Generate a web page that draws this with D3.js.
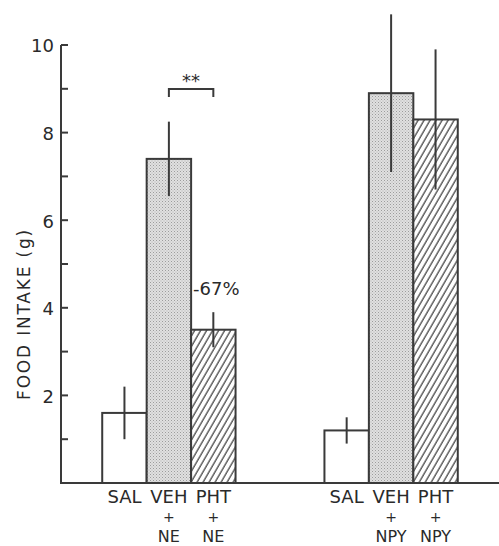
<!DOCTYPE html>
<html>
<head>
<meta charset="utf-8">
<script src="https://cdn.jsdelivr.net/npm/d3@7"></script>
<style>
  body { margin: 0; background: #fff; }
  svg { display: block; }
  text { font-family: "DejaVu Sans", sans-serif; fill: #2a2a2a; }
</style>
</head>
<body>
<div id="chart"></div>
<script>
// ---- data ----
const groups = ["NE", "NPY"];
const treatments = ["SAL", "VEH", "PHT"];
const meansNE = [1.6, 7.4, 3.5];
const errNE = [0.6, 0.85, 0.4];
const meansNPY = [1.2, 8.9, 8.3];
const errNPY = [0.3, 1.8, 1.6];
const yTicks = [1, 2, 3, 4, 5, 6, 7, 8, 9, 10];
const yLabels = [2, 4, 6, 8, 10];

const rows = [];
groups.forEach((g, gi) => {
  const m = gi === 0 ? meansNE : meansNPY;
  const e = gi === 0 ? errNE : errNPY;
  treatments.forEach((t, ti) => rows.push({ group: g, treat: t, mean: m[ti], err: e[ti] }));
});

// ---- setup ----
const width = 499, height = 546;
const ink = "#3a3a3a";

const svg = d3.select("#chart").append("svg")
  .attr("width", width).attr("height", height);

const defs = svg.append("defs");

// stipple for vehicle bars
const dots = defs.append("pattern")
  .attr("id", "stipple").attr("patternUnits", "userSpaceOnUse")
  .attr("width", 3).attr("height", 3);
dots.append("rect").attr("width", 3).attr("height", 3).attr("fill", "#e0e0e0");
dots.append("rect").attr("x", 0).attr("y", 0).attr("width", 1).attr("height", 1).attr("fill", "#9c9c9c");
dots.append("rect").attr("x", 1.5).attr("y", 1.5).attr("width", 1).attr("height", 1).attr("fill", "#b0b0b0");

// diagonal hatch for PHT bars
const hatch = defs.append("pattern")
  .attr("id", "hatch").attr("patternUnits", "userSpaceOnUse")
  .attr("width", 5.2).attr("height", 10)
  .attr("patternTransform", "rotate(30)");
hatch.append("rect").attr("width", 5.2).attr("height", 10).attr("fill", "#fff");
hatch.append("line").attr("x1", 1).attr("x2", 1).attr("y1", 0).attr("y2", 10)
  .attr("stroke", "#555").attr("stroke-width", 1.4);

const fills = { SAL: "#fff", VEH: "url(#stipple)", PHT: "url(#hatch)" };

const y = d3.scaleLinear().domain([0, 10]).range([483, 45]);
const x0 = d3.scaleBand().domain(groups).range([60, 500])
  .paddingInner(0.4).paddingOuter(0.19);
const x1 = d3.scaleBand().domain(treatments).range([0, x0.bandwidth()]);

const xPos = d => x0(d.group) + x1(d.treat);
const xMid = d => xPos(d) + x1.bandwidth() / 2;

// ---- bars ----
svg.append("g").selectAll("rect")
  .data(rows).join("rect")
  .attr("x", xPos)
  .attr("y", d => y(d.mean))
  .attr("width", x1.bandwidth())
  .attr("height", d => y(0) - y(d.mean))
  .attr("fill", d => fills[d.treat])
  .attr("stroke", ink)
  .attr("stroke-width", 2);

// ---- error bars ----
svg.append("g").selectAll("line")
  .data(rows).join("line")
  .attr("x1", xMid).attr("x2", xMid)
  .attr("y1", d => y(d.mean + d.err))
  .attr("y2", d => y(d.mean - d.err))
  .attr("stroke", ink).attr("stroke-width", 2);

// ---- axes ----
svg.append("line")
  .attr("x1", 61).attr("x2", 61).attr("y1", y(10)).attr("y2", y(0))
  .attr("stroke", ink).attr("stroke-width", 2);
svg.append("line")
  .attr("x1", 60).attr("x2", width).attr("y1", y(0)).attr("y2", y(0))
  .attr("stroke", ink).attr("stroke-width", 2);

svg.append("g").selectAll("line")
  .data(yTicks).join("line")
  .attr("x1", 61).attr("x2", 68)
  .attr("y1", d => y(d)).attr("y2", d => y(d))
  .attr("stroke", ink).attr("stroke-width", 2);

svg.append("g").selectAll("text")
  .data(yLabels).join("text")
  .attr("x", 54).attr("y", d => y(d) + 1)
  .attr("dy", "0.36em")
  .attr("text-anchor", "end")
  .attr("font-size", 18)
  .text(d => d);

svg.append("text")
  .attr("transform", "translate(24,314) rotate(-90)")
  .attr("text-anchor", "middle")
  .attr("dominant-baseline", "central")
  .attr("font-size", 17)
  .attr("letter-spacing", 1.8)
  .text("FOOD INTAKE (g)");

// ---- category labels ----
const lab = svg.append("g").attr("text-anchor", "middle");
lab.selectAll(".t").data(rows).join("text")
  .attr("class", "t")
  .attr("x", xMid).attr("y", 503)
  .attr("font-size", 18)
  .text(d => d.treat);
lab.selectAll(".p").data(rows.filter(d => d.treat !== "SAL")).join("text")
  .attr("class", "p")
  .attr("x", xMid).attr("y", 521.5)
  .attr("font-size", 14)
  .text("+");
lab.selectAll(".g").data(rows.filter(d => d.treat !== "SAL")).join("text")
  .attr("class", "g")
  .attr("x", xMid).attr("y", 542)
  .attr("font-size", 16)
  .text(d => d.group);

// ---- significance annotation ----
const veh = rows[1], pht = rows[2];
svg.append("path")
  .attr("d", `M${xMid(veh)},97 V89 H${xMid(pht)} V97`)
  .attr("fill", "none").attr("stroke", ink).attr("stroke-width", 2);
svg.append("text")
  .attr("x", (xMid(veh) + xMid(pht)) / 2).attr("y", 87)
  .attr("text-anchor", "middle").attr("font-size", 18)
  .text("**");
svg.append("text")
  .attr("x", xPos(pht) + 2).attr("y", 295)
  .attr("font-size", 18)
  .text("-67%");
</script>
</body>
</html>
